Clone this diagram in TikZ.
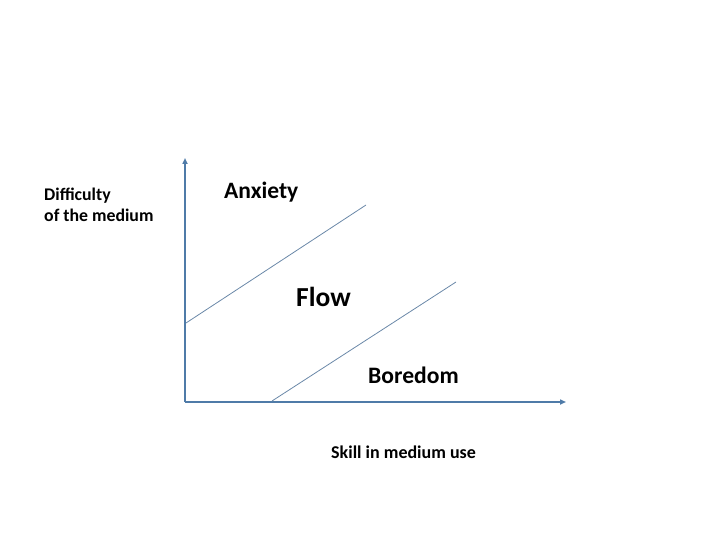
\documentclass[tikz,border=0pt]{standalone}
\usepackage{fontspec}
\setmainfont{Carlito}
\usetikzlibrary{arrows.meta}
\definecolor{axisblue}{HTML}{4F7BA8}
\definecolor{lineblue}{HTML}{6A88A8}
\tikzset{
  axis/.style={draw=axisblue, line width=2.4bp, -{Triangle[length=6bp,width=5bp]}},
  zone/.style={draw=lineblue, line width=0.8bp},
  lbl/.style={inner sep=0pt, text=black}
}
\begin{document}
\begin{tikzpicture}[x=1bp,y=-1bp]
\useasboundingbox (0,0) rectangle (720,540);
\coordinate (O) at (185,402);
\coordinate (Ytop) at (185,158);
\coordinate (Xend) at (566,402);
\draw[axis] (O) -- (Ytop);
\draw[axis] (O) -- (Xend);
\coordinate (a1) at (186,323);
\coordinate (a2) at (366,205);
\coordinate (b1) at (272,401);
\coordinate (b2) at (456,282);
\draw[zone] (a1) -- (a2);
\draw[zone] (b1) -- (b2);
\node[lbl, anchor=west, align=left, font=\bfseries\fontsize{17.8bp}{20.5bp}\selectfont] (diff) at (44,205) {Difficulty\\of the medium};
\node[lbl, anchor=west, font=\bfseries\fontsize{23.5bp}{27bp}\selectfont] (anx) at (224,192) {Anxiety};
\node[lbl, anchor=west, font=\bfseries\fontsize{27.5bp}{31bp}\selectfont] (flow) at (296,297) {Flow};
\node[lbl, anchor=west, font=\bfseries\fontsize{23.6bp}{27bp}\selectfont] (bor) at (368,375) {Boredom};
\node[lbl, anchor=west, font=\bfseries\fontsize{18bp}{21bp}\selectfont] (skill) at (331,452) {Skill in medium use};
\end{tikzpicture}
\end{document}
